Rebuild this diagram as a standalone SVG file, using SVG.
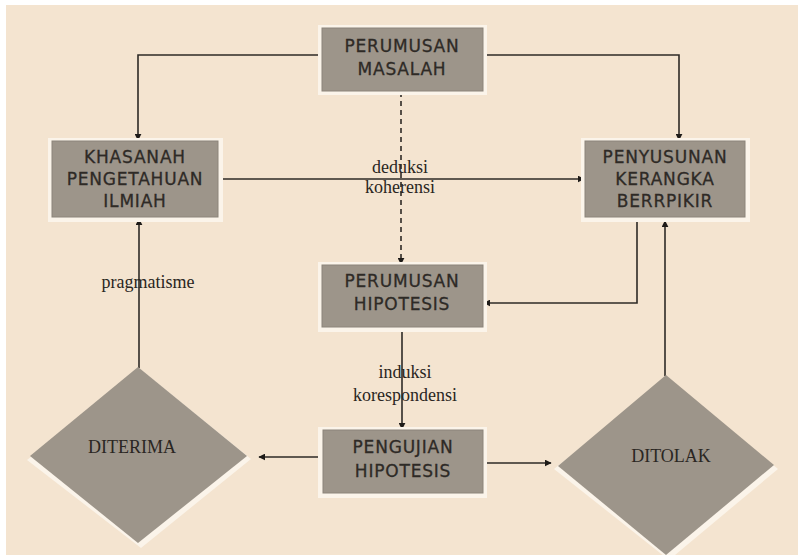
<svg xmlns="http://www.w3.org/2000/svg" width="798" height="555" viewBox="0 0 798 555">
<defs>
<style>
.bg{fill:#F4E4D0}
.sh{fill:#FBF4EA}
.box{fill:#9D958A;stroke:#8C847A;stroke-width:1}
.bt{font-family:"DejaVu Sans",Verdana,sans-serif;font-size:17px;fill:#2E2A26;text-anchor:middle;letter-spacing:0.8px;stroke:#2E2A26;stroke-width:0.3}
.lb{font-family:"Liberation Serif","Times New Roman",serif;font-size:18px;fill:#2A2622;text-anchor:middle}
.dt{font-family:"Liberation Serif","Times New Roman",serif;font-size:18px;fill:#2A2622;text-anchor:middle}
.ln{fill:none;stroke:#2E2A26;stroke-width:1.6}
.dash{stroke-dasharray:5,4}
</style>
<marker id="ah" viewBox="0 0 10 10" refX="9" refY="5" markerWidth="7" markerHeight="7" orient="auto" markerUnits="userSpaceOnUse">
<path d="M0,0 L10,5 L0,10 z" fill="#1E1B18"/>
</marker>
</defs>
<rect x="0" y="0" width="798" height="555" fill="#FFFFFF"/>
<rect class="bg" x="6" y="5" width="792" height="550"/>

<g id="connectors">
<polyline class="ln" points="322,55 138,55 138,140" marker-end="url(#ah)"/>
<polyline class="ln" points="483,55 679,55 679,140" marker-end="url(#ah)"/>
<line class="ln dash" x1="401" y1="92" x2="401" y2="264" marker-end="url(#ah)"/>
<line class="ln" x1="218" y1="179" x2="584" y2="179" marker-end="url(#ah)"/>
<polyline class="ln" points="637,218 637,303 484,303" marker-end="url(#ah)"/>
<line class="ln" x1="402" y1="328" x2="402" y2="429" marker-end="url(#ah)"/>
<line class="ln" x1="323" y1="457" x2="259" y2="457" marker-end="url(#ah)"/>
<line class="ln" x1="484" y1="463" x2="551" y2="463" marker-end="url(#ah)"/>
<line class="ln" x1="139" y1="368" x2="139" y2="219" marker-end="url(#ah)"/>
<line class="ln" x1="665" y1="376" x2="665" y2="221" marker-end="url(#ah)"/>
<text class="lb" x="400" y="173">deduksi</text>
<text class="lb" x="400" y="193">koherensi</text>
<text class="lb" x="405" y="378">induksi</text>
<text class="lb" x="405" y="401">korespondensi</text>
<text class="lb" x="148" y="288">pragmatisme</text>
</g>

<g id="perumusan-masalah">
<rect class="sh" x="318" y="25" width="169" height="70"/>
<rect class="box" x="322" y="28" width="161" height="63"/>
<text class="bt" x="402" y="52">PERUMUSAN</text>
<text class="bt" x="402" y="75">MASALAH</text>
</g>

<g id="khasanah">
<rect class="sh" x="48" y="138" width="175" height="84"/>
<rect class="box" x="52" y="141" width="166" height="76"/>
<text class="bt" x="135" y="163">KHASANAH</text>
<text class="bt" x="135" y="185">PENGETAHUAN</text>
<text class="bt" x="135" y="207">ILMIAH</text>
</g>

<g id="penyusunan">
<rect class="sh" x="581" y="138" width="169" height="84"/>
<rect class="box" x="585" y="141" width="160" height="76"/>
<text class="bt" x="665" y="163">PENYUSUNAN</text>
<text class="bt" x="665" y="185">KERANGKA</text>
<text class="bt" x="665" y="207">BERRPIKIR</text>
</g>

<g id="perumusan-hipotesis">
<rect class="sh" x="318" y="262" width="169" height="70"/>
<rect class="box" x="322" y="265" width="161" height="62"/>
<text class="bt" x="402" y="287">PERUMUSAN</text>
<text class="bt" x="402" y="310">HIPOTESIS</text>
</g>

<g id="pengujian-hipotesis">
<rect class="sh" x="318" y="427" width="169" height="71"/>
<rect class="box" x="323" y="430" width="160" height="63"/>
<text class="bt" x="403" y="453">PENGUJIAN</text>
<text class="bt" x="403" y="477">HIPOTESIS</text>
</g>

<g id="diterima">
<polygon class="sh" points="140,369 251,459 141,548 27,460"/>
<polygon points="138,367 247,456 138,543 30,456" fill="#9D958A"/>
<text class="dt" x="132" y="453">DITERIMA</text>
</g>

<g id="ditolak">
<polygon class="sh" points="668,378 778,469 669,560 554,469"/>
<polygon points="666,375 774,465 666,555 558,466" fill="#9D958A"/>
<text class="dt" x="671" y="462">DITOLAK</text>
</g>
</svg>
